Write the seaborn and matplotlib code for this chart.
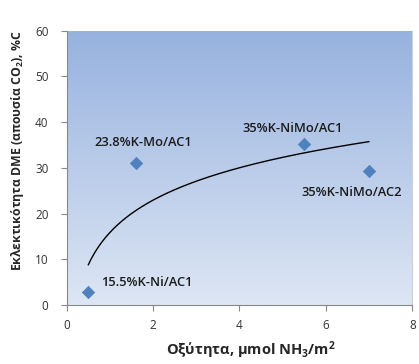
import numpy as np
import pandas as pd
import matplotlib
matplotlib.use('Agg')
import matplotlib.pyplot as plt
import seaborn as sns
from matplotlib.colors import LinearSegmentedColormap

# data
catalysts = ['15.5%K-Ni/AC1', '23.8%K-Mo/AC1', '35%K-NiMo/AC1', '35%K-NiMo/AC2']
acidity = [0.5, 1.6, 5.5, 7.0]
selectivity = [2.8, 31.0, 35.2, 29.4]
x_ticks = [0, 2, 4, 6, 8]
y_ticks = [0, 10, 20, 30, 40, 50, 60]

df = pd.DataFrame({'catalyst': catalysts, 'acidity': acidity, 'selectivity': selectivity})

sns.set_style('white')
plt.rcParams['font.family'] = ['Open Sans', 'DejaVu Sans']
plt.rcParams['mathtext.fontset'] = 'custom'
plt.rcParams['mathtext.rm'] = 'Open Sans:bold'
plt.rcParams['mathtext.it'] = 'Open Sans:bold'
plt.rcParams['mathtext.bf'] = 'Open Sans:bold'

fig = plt.figure(figsize=(4.19, 3.64), dpi=100)
ax = fig.add_axes([0.159, 0.162, 0.825, 0.754])

# gradient background of the plot area
cmap = LinearSegmentedColormap.from_list('bg', ['#dde6f4', '#97b2df'])
grad = np.linspace(0, 1, 256).reshape(-1, 1)
ax.imshow(grad, cmap=cmap, origin='lower', aspect='auto',
          extent=[0, 8, 0, 60], zorder=0)

sns.scatterplot(data=df, x='acidity', y='selectivity', marker='D', s=40,
                color='#4f81bd', edgecolor='#4f81bd', ax=ax, zorder=3)

# logarithmic trendline (least squares on ln x)
a, b = np.polyfit(np.log(df['acidity']), df['selectivity'], 1)
xs = np.linspace(min(acidity), max(acidity), 200)
ax.plot(xs, a * np.log(xs) + b, color='black', lw=1.0, zorder=2)

# point labels (left edge x, centre y relative to the point)
offsets = [(0.29, 2.1), (-0.96, 4.6), (-1.43, 3.5), (-1.56, -4.8)]
for name, x, y, (dx, dy) in zip(catalysts, acidity, selectivity, offsets):
    ax.text(x + dx, y + dy, name, fontsize=9.3, fontweight='semibold',
            color='#1a1a1a', ha='left', va='center', zorder=4)

ax.set_xlim(0, 8)
ax.set_ylim(0, 60)
ax.set_xticks(x_ticks)
ax.set_yticks(y_ticks)
ax.tick_params(axis='both', labelsize=8.5, labelcolor='#333333', length=4,
               color='#888888', direction='out', bottom=True, left=True)
ax.tick_params(axis='x', pad=6)
ax.tick_params(axis='y', pad=9)

ax.set_xlabel('Οξύτητα, μmol NH$_3$/m$^2$', fontsize=10.5, fontweight='bold', labelpad=5)
ax.xaxis.set_label_coords(0.533, -0.125)
ax.set_ylabel('Εκλεκτικότητα DME (απουσία CO$_2$), %C', fontsize=8.8,
              fontweight='bold')
ax.yaxis.set_label_coords(-0.118, 0.565)

for side in ['left', 'bottom']:
    ax.spines[side].set_color('#888888')
ax.spines['right'].set_color('#d0d0d0')
ax.spines['top'].set_visible(False)

fig.savefig('out.png', dpi=100)
